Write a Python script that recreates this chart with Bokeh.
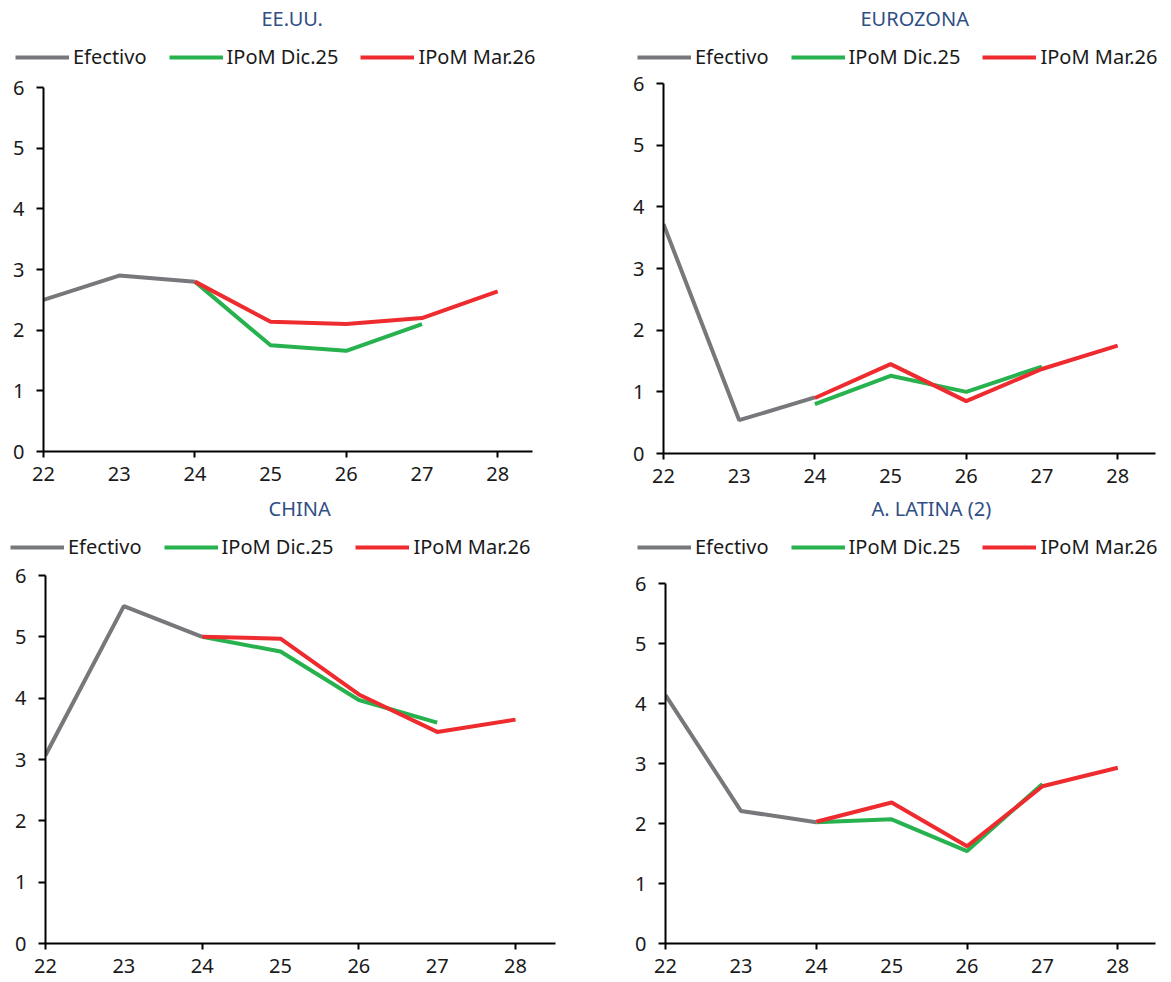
from bokeh.plotting import figure
from bokeh.models import Legend, LegendItem, FixedTicker, Range1d, Title
from bokeh.layouts import column, row
from bokeh.embed import file_html
from bokeh.resources import INLINE

# ---- data ----
years_eff = [22, 23, 24]
years_dic = [24, 25, 26, 27]
years_mar = [24, 25, 26, 27, 28]
x_ticks = [22, 23, 24, 25, 26, 27, 28]
y_ticks = [0, 1, 2, 3, 4, 5, 6]

usa_eff = [2.5, 2.9, 2.8]
usa_dic = [2.8, 1.75, 1.66, 2.1]
usa_mar = [2.8, 2.14, 2.1, 2.2, 2.64]

ez_eff = [3.72, 0.54, 0.91]
ez_dic = [0.8, 1.26, 1.0, 1.41]
ez_mar = [0.9, 1.45, 0.85, 1.37, 1.75]

cn_eff = [3.07, 5.5, 5.0]
cn_dic = [5.0, 4.76, 3.97, 3.6]
cn_mar = [5.0, 4.97, 4.06, 3.45, 3.65]

la_eff = [4.14, 2.21, 2.02]
la_dic = [2.02, 2.07, 1.54, 2.66]
la_mar = [2.03, 2.35, 1.62, 2.62, 2.93]

series_names = ["Efectivo", "IPoM Dic.25", "IPoM Mar.26"]
colors = ["#77787b", "#27b24f", "#ee2b2e"]

FONT = "Noto Sans"
TITLE_COLOR = "#2f4f85"
FS = "20px"
HEADER_H = 70


def header(title, eff, dic, mar, w, title_x, leg_x, leg_y):
    h = figure(width=w, height=HEADER_H, output_backend="svg", toolbar_location=None,
               x_range=Range1d(0, 1), y_range=Range1d(0, 1),
               x_axis_type=None, y_axis_type=None,
               min_border_left=0, min_border_right=0, min_border_top=0, min_border_bottom=0)
    h.outline_line_color = None
    h.grid.grid_line_color = None
    h.title = Title(text=title, align="left", offset=title_x, text_font=FONT,
                    text_font_size=FS, text_font_style="normal",
                    text_color=TITLE_COLOR, standoff=4)
    # legend renderers: the panel's series, lying outside this header's visible range
    rs = [h.line(years_eff, eff, line_color=colors[0], line_width=4),
          h.line(years_dic, dic, line_color=colors[1], line_width=4),
          h.line(years_mar, mar, line_color=colors[2], line_width=4)]
    leg = Legend(items=[LegendItem(label=n, renderers=[r]) for n, r in zip(series_names, rs)],
                 orientation="horizontal", location=(leg_x, leg_y),
                 padding=0, margin=0, spacing=22, label_standoff=4,
                 glyph_width=54, glyph_height=20, label_height=20,
                 label_text_font=FONT, label_text_font_size=FS,
                 label_text_color="#1a1a1a",
                 border_line_color=None, background_fill_alpha=0)
    h.add_layout(leg, "center")
    return h


def chart(eff, dic, mar, w, h, bl, br, bt, bb, xmax):
    p = figure(width=w, height=h, output_backend="svg", toolbar_location=None,
               x_range=Range1d(22, xmax), y_range=Range1d(0, 6),
               min_border_left=bl, min_border_right=br,
               min_border_top=bt, min_border_bottom=bb)
    p.outline_line_color = None
    p.grid.grid_line_color = None

    p.line(years_eff, eff, line_color=colors[0], line_width=4)
    p.line(years_dic, dic, line_color=colors[1], line_width=4)
    p.line(years_mar, mar, line_color=colors[2], line_width=4)

    xa = p.xaxis[0]
    xa.ticker = FixedTicker(ticks=x_ticks, minor_ticks=[22, 24, 26, 28])
    xa.major_tick_out = 0
    xa.major_tick_in = 0
    xa.minor_tick_out = 6
    xa.minor_tick_in = 0
    xa.minor_tick_line_color = "black"
    xa.minor_tick_line_width = 2
    xa.axis_line_color = "black"
    xa.axis_line_width = 2
    xa.major_label_text_font = FONT
    xa.major_label_text_font_size = FS
    xa.major_label_text_color = "#1a1a1a"
    xa.major_label_standoff = 9

    ya = p.yaxis[0]
    ya.ticker = FixedTicker(ticks=y_ticks)
    ya.major_tick_out = 7
    ya.major_tick_in = 0
    ya.minor_tick_out = 0
    ya.minor_tick_in = 0
    ya.major_tick_line_color = "black"
    ya.major_tick_line_width = 2
    ya.axis_line_color = "black"
    ya.axis_line_width = 2
    ya.major_label_text_font = FONT
    ya.major_label_text_font_size = FS
    ya.major_label_text_color = "#1a1a1a"
    ya.major_label_standoff = 12
    return p


h1 = header("EE.UU.", usa_eff, usa_dic, usa_mar, 585, 261, 15, 0)
p1 = chart(usa_eff, usa_dic, usa_mar, 585, 420, 43, 53, 17, 39, 28.46)
h2 = header("EUROZONA", ez_eff, ez_dic, ez_mar, 586, 275, 52, 0)
p2 = chart(ez_eff, ez_dic, ez_mar, 586, 420, 78, 16, 13, 37, 28.50)
h3 = header("CHINA", cn_eff, cn_dic, cn_mar, 585, 268, 10, 0)
p3 = chart(cn_eff, cn_dic, cn_mar, 585, 422, 45, 30, 15, 39, 28.51)
h4 = header("A. LATINA (2)", la_eff, la_dic, la_mar, 586, 286, 52, 0)
p4 = chart(la_eff, la_dic, la_mar, 586, 422, 80, 16, 23, 39, 28.50)

layout = column(row(h1, h2), row(column(p1), column(p2)),
                row(h3, h4), row(column(p3), column(p4)))
open("out.html", "w").write(file_html(layout, INLINE))
